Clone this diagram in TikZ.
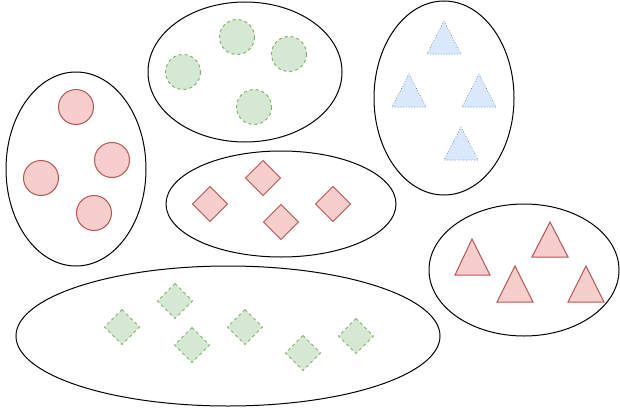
\documentclass[tikz,border=0pt]{standalone}
\usepackage{tikz}
\usetikzlibrary{arrows.meta}

\definecolor{redfill}{HTML}{F8CECC}
\definecolor{redline}{HTML}{B85450}
\definecolor{greenfill}{HTML}{D5E8D4}
\definecolor{greenline}{HTML}{82B366}
\definecolor{bluefill}{HTML}{DAE8FC}
\definecolor{blueline}{HTML}{6C8EBF}

\begin{document}
\begin{tikzpicture}[x=1pt, y=-1pt,
		group/.style={draw=black, line width=1pt},
		redshape/.style={draw=redline, fill=redfill, line width=1pt},
		greenshape/.style={draw=greenline, fill=greenfill, line width=1pt, dash pattern=on 3pt off 3pt},
		blueshape/.style={draw=blueline, fill=bluefill, line width=1pt, dash pattern=on 0.1pt off 2.6pt, line cap=round}]
	\useasboundingbox (0,0) rectangle (620,412);
	
	% --- 左：红色圆 ---
	\draw[group] (76,169) ellipse (70 and 97);
	\draw[redshape] (76,107) circle (17.5);
	\draw[redshape] (112,160) circle (17.5);
	\draw[redshape] (41,178) circle (17.5);
	\draw[redshape] (94,213) circle (17.5);
	
	% --- 上中：绿色虚线圆 ---
	\draw[group] (245,72) ellipse (97 and 70);
	\draw[greenshape] (237,37) circle (17.5);
	\draw[greenshape] (289,54) circle (17.5);
	\draw[greenshape] (183,72) circle (17.5);
	\draw[greenshape] (254,107) circle (17.5);
	
	% --- 右上：蓝色点线三角形 ---
	\draw[group] (444,98) ellipse (70 and 97);
	\draw[blueshape] (444,21) -- (461,54) -- (427,54) -- cycle;
	\draw[blueshape] (409,74) -- (426,107) -- (392,107) -- cycle;
	\draw[blueshape] (479,74) -- (496,107) -- (462,107) -- cycle;
	\draw[blueshape] (461,127) -- (478,160) -- (444,160) -- cycle;
	
	% --- 中：红色菱形 ---
	\draw[group] (281,204) ellipse (115 and 53);
	\draw[redshape] (210,204) +(0,-17.5) -- +(17.5,0) -- +(0,17.5) -- +(-17.5,0) -- cycle;
	\draw[redshape] (263,178) +(0,-17.5) -- +(17.5,0) -- +(0,17.5) -- +(-17.5,0) -- cycle;
	\draw[redshape] (281,222) +(0,-17.5) -- +(17.5,0) -- +(0,17.5) -- +(-17.5,0) -- cycle;
	\draw[redshape] (333,204) +(0,-17.5) -- +(17.5,0) -- +(0,17.5) -- +(-17.5,0) -- cycle;
	
	% --- 右下：红色三角形 ---
	\draw[group] (524,270) ellipse (95 and 66);
	\draw[redshape] (472,239) -- (490,275) -- (455,275) -- cycle;
	\draw[redshape] (550,222) -- (568,257) -- (532,257) -- cycle;
	\draw[redshape] (515,266) -- (533,302) -- (497,302) -- cycle;
	\draw[redshape] (586,266) -- (604,302) -- (568,302) -- cycle;
	
	% --- 下：绿色虚线菱形 ---
	\draw[group] (228,336) ellipse (212 and 70);
	\draw[greenshape] (122,327) +(0,-17.5) -- +(17.5,0) -- +(0,17.5) -- +(-17.5,0) -- cycle;
	\draw[greenshape] (175,301) +(0,-17.5) -- +(17.5,0) -- +(0,17.5) -- +(-17.5,0) -- cycle;
	\draw[greenshape] (192,345) +(0,-17.5) -- +(17.5,0) -- +(0,17.5) -- +(-17.5,0) -- cycle;
	\draw[greenshape] (245,327) +(0,-17.5) -- +(17.5,0) -- +(0,17.5) -- +(-17.5,0) -- cycle;
	\draw[greenshape] (303,353) +(0,-17.5) -- +(17.5,0) -- +(0,17.5) -- +(-17.5,0) -- cycle;
	\draw[greenshape] (356,336) +(0,-17.5) -- +(17.5,0) -- +(0,17.5) -- +(-17.5,0) -- cycle;
\end{tikzpicture}
\end{document}
